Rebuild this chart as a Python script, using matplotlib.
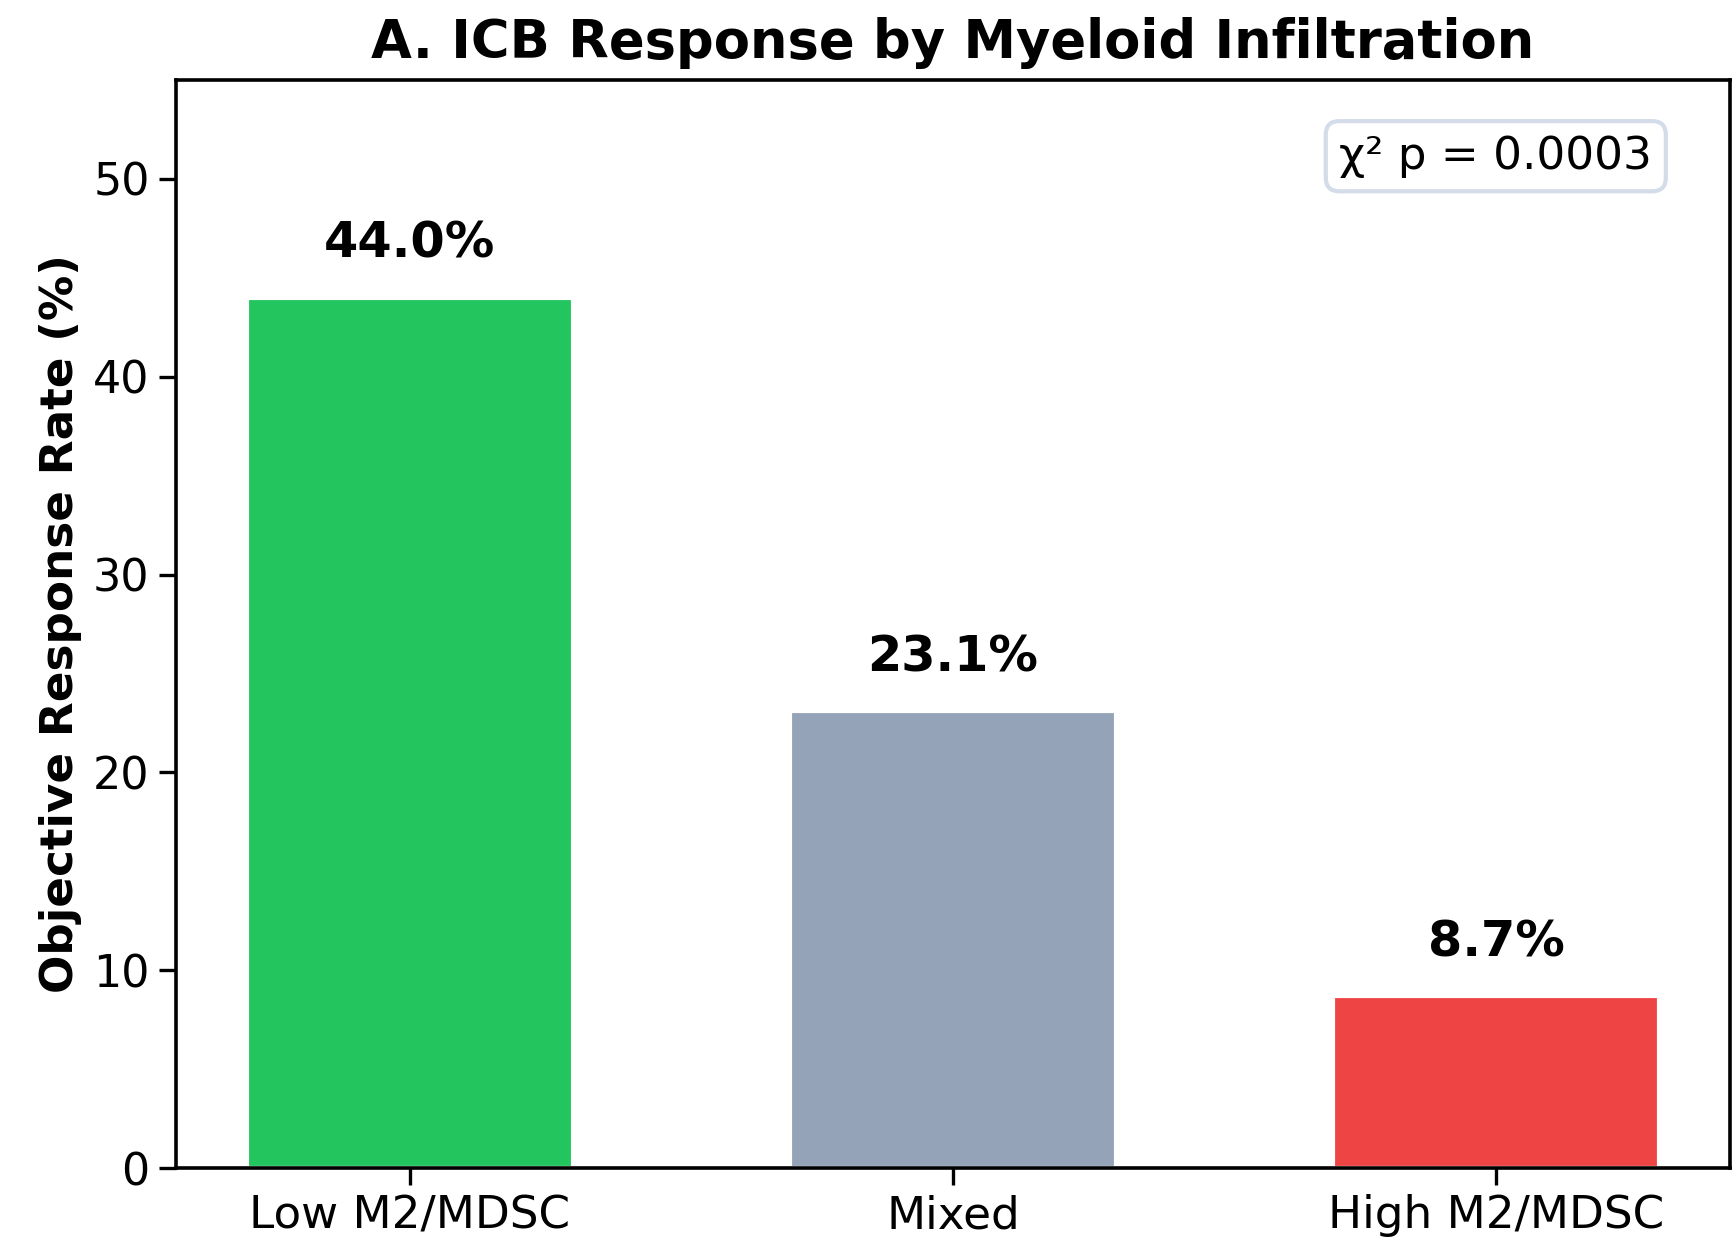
import matplotlib
matplotlib.use("Agg")
import matplotlib.pyplot as plt

groups = ["Low M2/MDSC", "Mixed", "High M2/MDSC"]
orr = [44.0, 23.1, 8.7]
colors = ["#22c55e", "#94a3b8", "#ef4444"]
p_text = "χ² p = 0.0003"

fig = plt.figure(figsize=(8.68, 6.195), dpi=200)
ax = fig.add_axes([0.1014, 0.0573, 0.8951, 0.8781])

x = range(len(groups))
bars = ax.bar(x, orr, width=0.6, color=colors, edgecolor="white", linewidth=1.5)
for b, v in zip(bars, orr):
    ax.text(b.get_x() + b.get_width() / 2, v + 1.5, f"{v:.1f}%",
            ha="center", va="bottom", fontsize=17.8, fontweight="bold")

ax.set_xticks(list(x))
ax.set_xticklabels(groups, fontsize=16.3)
ax.tick_params(axis="y", labelsize=16)
ax.tick_params(length=6, width=1.2)
ax.set_ylim(0, 55)
ax.set_ylabel("Objective Response Rate (%)", fontsize=16.3, fontweight="bold")
ax.set_title("A. ICB Response by Myeloid Infiltration", fontsize=19, fontweight="bold", pad=8)
for s in ax.spines.values():
    s.set_linewidth(1.3)

ax.text(0.95, 0.93, p_text, transform=ax.transAxes, ha="right", va="center", fontsize=16.3,
        bbox=dict(boxstyle="round,pad=0.3", facecolor="white", edgecolor="#d3dce8", linewidth=1.5))

fig.savefig("out.png", dpi=200)
